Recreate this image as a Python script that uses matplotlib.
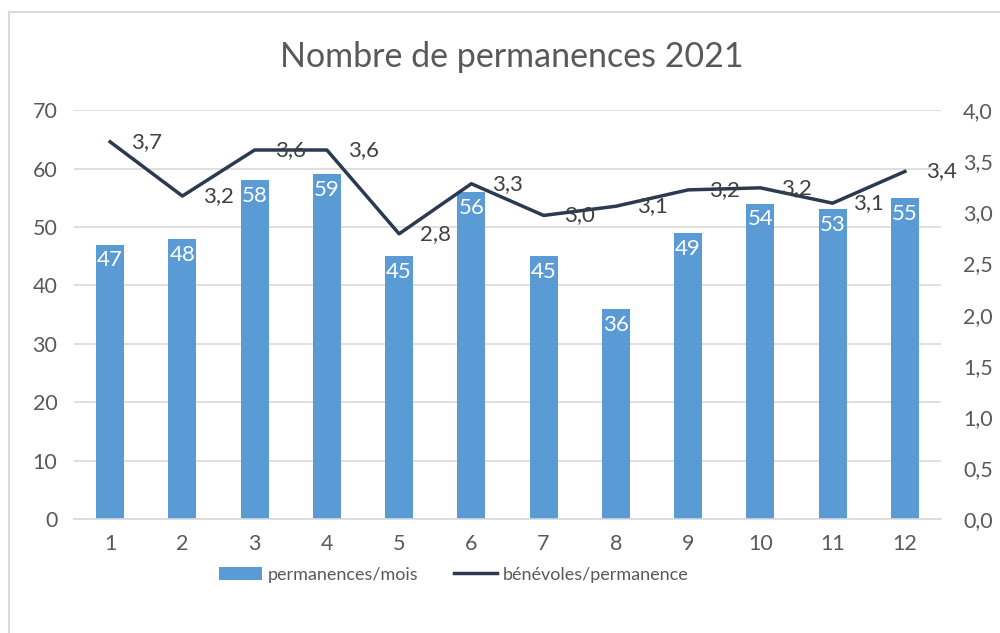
import matplotlib
matplotlib.use("Agg")
import matplotlib.pyplot as plt
from matplotlib.lines import Line2D
from matplotlib.patches import Patch

plt.rcParams['font.family'] = ['Lato', 'DejaVu Sans']

mois = [1, 2, 3, 4, 5, 6, 7, 8, 9, 10, 11, 12]
permanences = [47, 48, 58, 59, 45, 56, 45, 36, 49, 54, 53, 55]
benevoles = [3.69, 3.16, 3.61, 3.61, 2.79, 3.28, 2.97, 3.06, 3.22, 3.24, 3.09, 3.40]

BLEU = "#5b9bd5"
NAVY = "#2b3a4f"
GRIS_TXT = "#595959"
GRIS_GRID = "#d9d9d9"

fig = plt.figure(figsize=(10, 6.33), dpi=100)
fig.patch.set_facecolor("white")
ax = fig.add_axes([0.074, 0.18, 0.867, 0.646])
ax2 = ax.twinx()

x = list(range(len(mois)))
bars = ax.bar(x, permanences, width=0.39, color=BLEU, zorder=2)
ax.set_xlim(-0.5, len(mois) - 0.5)
ax.set_ylim(0, 70)
ax.set_yticks(range(0, 71, 10))
ax.set_xticks(x)
ax.set_xticklabels([str(m) for m in mois])
ax.yaxis.grid(True, color=GRIS_GRID, lw=1.2, zorder=0)
ax.set_axisbelow(True)
for s in ["top", "right", "left"]:
    ax.spines[s].set_visible(False)
ax.spines["bottom"].set_color(GRIS_GRID)
ax.spines["bottom"].set_linewidth(1.2)
ax.tick_params(axis="both", length=0, labelsize=15.5, colors=GRIS_TXT, pad=11)
ax.tick_params(axis="y", pad=12)

for xi, v in zip(x, permanences):
    ax.text(xi, v - 1.0, str(v), ha="center", va="top", color="white", fontsize=16, zorder=3)

ax2.plot(x, benevoles, color=NAVY, lw=2.5, zorder=4)
ax2.set_ylim(0, 4.0)
ax2.set_yticks([i * 0.5 for i in range(9)])
ax2.set_yticklabels([f"{i * 0.5:.1f}".replace(".", ",") for i in range(9)])
for s in ["top", "right", "left", "bottom"]:
    ax2.spines[s].set_visible(False)
ax2.tick_params(axis="y", length=0, labelsize=15.5, colors=GRIS_TXT, pad=16)

for xi, v in zip(x, benevoles):
    ax2.annotate(f"{v:.1f}".replace(".", ","), (xi, v), xytext=(15, 0),
                 textcoords="offset points", ha="left", va="center",
                 fontsize=16, color="#404040", zorder=5)

fig.text(0.512, 0.91, "Nombre de permanences 2021", ha="center", va="center",
         fontsize=24.5, color=GRIS_TXT)

handles = [Patch(facecolor=BLEU, label="permanences/mois"),
           Line2D([0], [0], color=NAVY, lw=2.5, label="bénévoles/permanence")]
fig.legend(handles=handles, loc="center", bbox_to_anchor=(0.4535, 0.092), ncol=2,
           frameon=False, fontsize=13, labelcolor=GRIS_TXT, handlelength=2.4,
           handletextpad=0.3, columnspacing=2.0)

# cadre du graphique
fig.add_artist(Line2D([0.009, 0.009], [0, 0.981], color="#d9d9d9", lw=1.5,
                      transform=fig.transFigure))
fig.add_artist(Line2D([0.009, 1.0], [0.981, 0.981], color="#d9d9d9", lw=1.5,
                      transform=fig.transFigure))

fig.savefig("out.png", dpi=100, facecolor="white")
